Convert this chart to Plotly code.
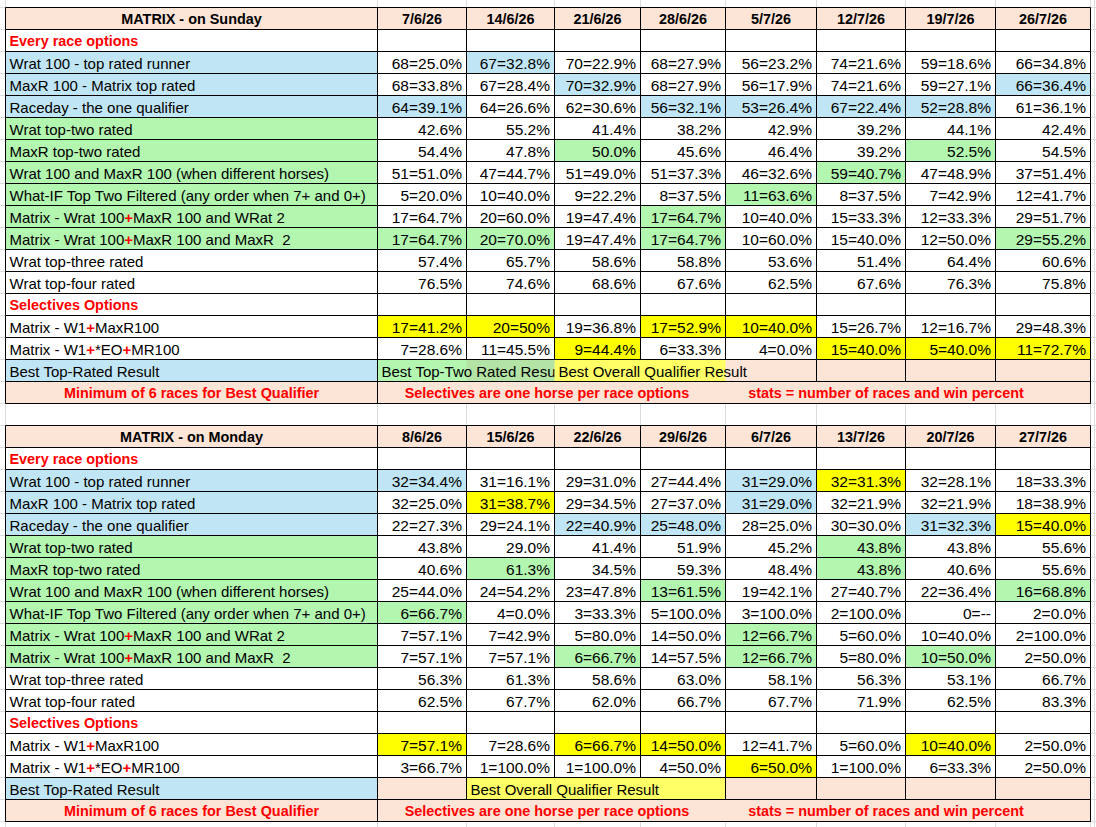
import plotly.graph_objects as go

# ---- data -------------------------------------------------------------
sun_dates = ["7/6/26", "14/6/26", "21/6/26", "28/6/26", "5/7/26", "12/7/26", "19/7/26", "26/7/26"]
mon_dates = ["8/6/26", "15/6/26", "22/6/26", "29/6/26", "6/7/26", "13/7/26", "20/7/26", "27/7/26"]

row_labels = [
    None,
    "Every race options",
    "Wrat 100 - top rated runner",
    "MaxR 100 - Matrix top rated",
    "Raceday - the one qualifier",
    "Wrat top-two rated",
    "MaxR top-two rated",
    "Wrat 100 and MaxR 100 (when different horses)",
    "What-IF Top Two Filtered (any order when 7+ and 0+)",
    "Matrix - Wrat 100+MaxR 100 and WRat 2",
    "Matrix - Wrat 100+MaxR 100 and MaxR\u00a0 2",
    "Wrat top-three rated",
    "Wrat top-four rated",
    "Selectives Options",
    "Matrix - W1+MaxR100",
    "Matrix - W1+*EO+MR100",
    "Best Top-Rated Result",
    "Minimum of 6 races for Best Qualifier",
]
footer_notes = ["Selectives are one horse per race options", "stats = number of races and win percent"]

# Sunday
wrat100_sun = ["68=25.0%", "67=32.8%", "70=22.9%", "68=27.9%", "56=23.2%", "74=21.6%", "59=18.6%", "66=34.8%"]
maxr100_sun = ["68=33.8%", "67=28.4%", "70=32.9%", "68=27.9%", "56=17.9%", "74=21.6%", "59=27.1%", "66=36.4%"]
raceday_sun = ["64=39.1%", "64=26.6%", "62=30.6%", "56=32.1%", "53=26.4%", "67=22.4%", "52=28.8%", "61=36.1%"]
wrat_top2_sun = ["42.6%", "55.2%", "41.4%", "38.2%", "42.9%", "39.2%", "44.1%", "42.4%"]
maxr_top2_sun = ["54.4%", "47.8%", "50.0%", "45.6%", "46.4%", "39.2%", "52.5%", "54.5%"]
both100_sun = ["51=51.0%", "47=44.7%", "51=49.0%", "51=37.3%", "46=32.6%", "59=40.7%", "47=48.9%", "37=51.4%"]
whatif_sun = ["5=20.0%", "10=40.0%", "9=22.2%", "8=37.5%", "11=63.6%", "8=37.5%", "7=42.9%", "12=41.7%"]
mx_wrat2_sun = ["17=64.7%", "20=60.0%", "19=47.4%", "17=64.7%", "10=40.0%", "15=33.3%", "12=33.3%", "29=51.7%"]
mx_maxr2_sun = ["17=64.7%", "20=70.0%", "19=47.4%", "17=64.7%", "10=60.0%", "15=40.0%", "12=50.0%", "29=55.2%"]
wrat_top3_sun = ["57.4%", "65.7%", "58.6%", "58.8%", "53.6%", "51.4%", "64.4%", "60.6%"]
wrat_top4_sun = ["76.5%", "74.6%", "68.6%", "67.6%", "62.5%", "67.6%", "76.3%", "75.8%"]
w1_maxr_sun = ["17=41.2%", "20=50%", "19=36.8%", "17=52.9%", "10=40.0%", "15=26.7%", "12=16.7%", "29=48.3%"]
w1_eo_sun = ["7=28.6%", "11=45.5%", "9=44.4%", "6=33.3%", "4=0.0%", "15=40.0%", "5=40.0%", "11=72.7%"]

# Monday
wrat100_mon = ["32=34.4%", "31=16.1%", "29=31.0%", "27=44.4%", "31=29.0%", "32=31.3%", "32=28.1%", "18=33.3%"]
maxr100_mon = ["32=25.0%", "31=38.7%", "29=34.5%", "27=37.0%", "31=29.0%", "32=21.9%", "32=21.9%", "18=38.9%"]
raceday_mon = ["22=27.3%", "29=24.1%", "22=40.9%", "25=48.0%", "28=25.0%", "30=30.0%", "31=32.3%", "15=40.0%"]
wrat_top2_mon = ["43.8%", "29.0%", "41.4%", "51.9%", "45.2%", "43.8%", "43.8%", "55.6%"]
maxr_top2_mon = ["40.6%", "61.3%", "34.5%", "59.3%", "48.4%", "43.8%", "40.6%", "55.6%"]
both100_mon = ["25=44.0%", "24=54.2%", "23=47.8%", "13=61.5%", "19=42.1%", "27=40.7%", "22=36.4%", "16=68.8%"]
whatif_mon = ["6=66.7%", "4=0.0%", "3=33.3%", "5=100.0%", "3=100.0%", "2=100.0%", "0=--", "2=0.0%"]
mx_wrat2_mon = ["7=57.1%", "7=42.9%", "5=80.0%", "14=50.0%", "12=66.7%", "5=60.0%", "10=40.0%", "2=100.0%"]
mx_maxr2_mon = ["7=57.1%", "7=57.1%", "6=66.7%", "14=57.5%", "12=66.7%", "5=80.0%", "10=50.0%", "2=50.0%"]
wrat_top3_mon = ["56.3%", "61.3%", "58.6%", "63.0%", "58.1%", "56.3%", "53.1%", "66.7%"]
wrat_top4_mon = ["62.5%", "67.7%", "62.0%", "66.7%", "67.7%", "71.9%", "62.5%", "83.3%"]
w1_maxr_mon = ["7=57.1%", "7=28.6%", "6=66.7%", "14=50.0%", "12=41.7%", "5=60.0%", "10=40.0%", "2=50.0%"]
w1_eo_mon = ["3=66.7%", "1=100.0%", "1=100.0%", "4=50.0%", "6=50.0%", "1=100.0%", "6=33.3%", "2=50.0%"]

# ---- cell fills (w white, p peach, b blue, g green, y yellow, l pale yellow, G dull green)
label_fill = "pwbbbggggggwwwwwbp"
fill_sun = ["pppppppp", "wwwwwwww", "wbwwwwww", "wwbwwwwb", "bwwbbbbw", "wwwwwwww",
            "wwgwwwgw", "wwwwwgww", "wwwwgwww", "wwwgwwww", "ggwgwwwg", "wwwwwwww",
            "wwwwwwww", "wwwwwwww", "yywyywww", "wwywwyyy", "gGllpppp", "pppppppp"]
fill_mon = ["pppppppp", "wwwwwwww", "bwwwbyww", "wywwbwww", "wwbbwwby", "wwwwwgww",
            "wgwwwgww", "wwwgwwwg", "gwwwwwww", "wwwwgwww", "wwgwgwgw", "wwwwwwww",
            "wwwwwwww", "wwwwwwww", "ywyywwyw", "wwwwywww", "plllpppp", "pppppppp"]
fill_codes = "wpbgylG"
fill_colors = ["#FFFFFF", "#FCE4D6", "#C0E6F5", "#B3F6B0", "#FFFF00", "#FFFF66", "#B4E3A6"]

RED = "#FF0000"
FONT = "Liberation Sans, Arial, sans-serif"

# ---- sheet geometry ---------------------------------------------------
W, H = 1096, 827
col_edges = [5.5, 377.5, 466.5, 554.5, 640.5, 725.5, 816.5, 905.5, 995.5, 1090.5]
row_h = 22
n_rows = 18


def table(top, title, dates, rows, fills, best_cols, best_skip):
    y_edges = [top + row_h * k for k in range(n_rows + 1)]
    y_mid = [top + row_h * k + row_h / 2 + 2.3 for k in range(n_rows)]

    z = []
    for r in range(n_rows):
        codes = label_fill[r] + fills[r]
        z.append([fill_codes.index(c) for c in codes])
    n = len(fill_colors) - 1
    heat = go.Heatmap(
        x=col_edges, y=y_edges, z=z, zmin=0, zmax=n,
        colorscale=[[k / n, c] for k, c in enumerate(fill_colors)],
        showscale=False, hoverinfo="skip",
    )

    # black cell borders
    lx, ly = [], []
    for y in y_edges:
        lx += [col_edges[0], col_edges[-1], None]
        ly += [y, y, None]
    for r in range(n_rows):
        for j, x in enumerate(col_edges):
            if r == n_rows - 1 and j not in (0, 1, len(col_edges) - 1):
                continue
            if r == n_rows - 2 and j in best_skip:
                continue
            lx += [x, x, None]
            ly += [y_edges[r], y_edges[r + 1], None]
    borders = go.Scatter(x=lx, y=ly, mode="lines", line=dict(color="#000000", width=1),
                         hoverinfo="skip", showlegend=False)

    left = dict(x=[], y=[], text=[], color=[], size=[])
    right = dict(x=[], y=[], text=[], color=[], size=[])
    center = dict(x=[], y=[], text=[], color=[], size=[])

    def put(d, x, y, t, c="#000000", s=15):
        d["x"].append(x)
        d["y"].append(y)
        d["text"].append(t)
        d["color"].append(c)
        d["size"].append(s)

    label_mid = (col_edges[0] + col_edges[1]) / 2
    put(center, label_mid, y_mid[0], "<b>%s</b>" % title, s=14.4)
    for j, d in enumerate(dates):
        put(center, (col_edges[j + 1] + col_edges[j + 2]) / 2, y_mid[0], "<b>%s</b>" % d, s=14.4)

    for r in range(1, n_rows - 1):
        lab = row_labels[r]
        if r in (1, 13):
            put(left, col_edges[0] + 4, y_mid[r], "<b>%s</b>" % lab, RED, 14.4)
            continue
        if r in (9, 10, 14, 15):
            lab = lab.replace("+", "<b><span style='color:%s'>+</span></b>" % RED)
        put(left, col_edges[0] + 4, y_mid[r], lab)
        vals = rows[r]
        if vals:
            for j, v in enumerate(vals):
                put(right, col_edges[j + 2] - 4.5, y_mid[r], v, s=15.5)

    r = n_rows - 1
    put(center, label_mid, y_mid[r], "<b>%s</b>" % row_labels[r], RED, 14.4)
    for cx, note in zip([547, 886], footer_notes):
        put(center, cx, y_mid[r], "<b>%s</b>" % note, RED, 14.4)

    best = []
    for j, t in best_cols:
        best.append((col_edges[j] + 4, y_mid[n_rows - 2], t))

    traces = [heat, borders]
    for d, pos in ((left, "middle right"), (right, "middle left"), (center, "middle center")):
        traces.append(go.Scatter(
            x=d["x"], y=d["y"], text=d["text"], mode="text", textposition=pos,
            textfont=dict(family=FONT, color=d["color"], size=d["size"]),
            hoverinfo="skip", showlegend=False, cliponaxis=False,
        ))
    return traces, best


def rows_of(a):
    return [None, None] + a + [None, None]


sun_rows = rows_of([wrat100_sun, maxr100_sun, raceday_sun, wrat_top2_sun, maxr_top2_sun,
                    both100_sun, whatif_sun, mx_wrat2_sun, mx_maxr2_sun, wrat_top3_sun,
                    wrat_top4_sun, None, w1_maxr_sun, w1_eo_sun])
mon_rows = rows_of([wrat100_mon, maxr100_mon, raceday_mon, wrat_top2_mon, maxr_top2_mon,
                    both100_mon, whatif_mon, mx_wrat2_mon, mx_maxr2_mon, wrat_top3_mon,
                    wrat_top4_mon, None, w1_maxr_mon, w1_eo_mon])

sun_traces, sun_best = table(7.5, "MATRIX - on Sunday", sun_dates, sun_rows, fill_sun,
                             [(1, "Best Top-Two Rated Result"), (3, "Best Overall Qualifier Result")],
                             (2, 3, 4, 5))
mon_traces, mon_best = table(425.5, "MATRIX - on Monday", mon_dates, mon_rows, fill_mon,
                             [(2, "Best Overall Qualifier Result")], (3, 4))

fig = go.Figure()
for t in sun_traces + mon_traces:
    fig.add_trace(t)

# overflow text of the "Best" rows; the first one is cut off at the next filled cell
free_best = sun_best[1:] + mon_best
fig.add_trace(go.Scatter(
    x=[b[0] for b in free_best], y=[b[1] for b in free_best], text=[b[2] for b in free_best],
    mode="text", textposition="middle right",
    textfont=dict(family=FONT, color="#000000", size=15), hoverinfo="skip",
    showlegend=False, cliponaxis=False,
))
fig.add_trace(go.Scatter(
    x=[sun_best[0][0]], y=[sun_best[0][1]], text=[sun_best[0][2]], mode="text",
    textposition="middle right", textfont=dict(family=FONT, color="#000000", size=15),
    hoverinfo="skip", showlegend=False, cliponaxis=True, xaxis="x2", yaxis="y2",
))

x_grid = col_edges + [1094.5]
y_grid = [7.5 + row_h * k for k in range(n_rows + 1)] + [425.5 + row_h * k for k in range(n_rows + 1)]

fig.update_layout(
    width=W, height=H, margin=dict(l=0, r=0, t=0, b=0),
    paper_bgcolor="#FFFFFF", plot_bgcolor="rgba(0,0,0,0)",
    showlegend=False,
    xaxis=dict(range=[0, W], tickvals=x_grid, showgrid=True, gridcolor="#DCDCDC", gridwidth=1,
               showticklabels=False, ticks="", zeroline=False, showline=False, fixedrange=True),
    yaxis=dict(range=[H, 0], tickvals=y_grid, showgrid=True, gridcolor="#DCDCDC", gridwidth=1,
               showticklabels=False, ticks="", zeroline=False, showline=False, fixedrange=True),
    xaxis2=dict(domain=[0, col_edges[3] / W], range=[0, col_edges[3]], anchor="y2", visible=False,
                fixedrange=True),
    yaxis2=dict(domain=[0, 1], range=[H, 0], anchor="x2", visible=False, fixedrange=True),
)

fig.write_html("out.html", config={"displayModeBar": False},
               post_script="document.body.style.margin='0';")
